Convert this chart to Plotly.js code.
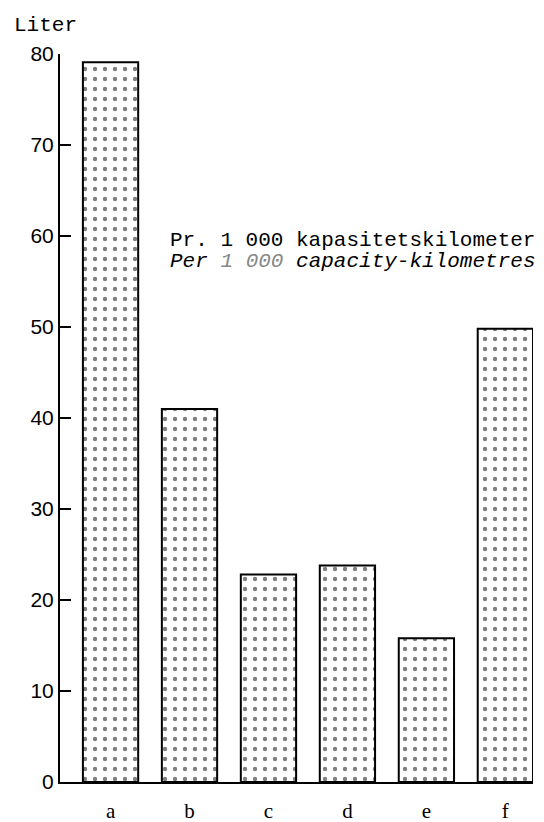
<!DOCTYPE html>
<html>
<head>
<meta charset="utf-8">
<script src="https://cdn.plot.ly/plotly-3.0.1.min.js"></script>
<style>
html, body { margin: 0; padding: 0; background: #fff; }
#chart { width: 544px; height: 822px; }
</style>
</head>
<body>
<div id="chart"></div>
<script>
// Data
const categories = ['a', 'b', 'c', 'd', 'e', 'f'];
const litres = [79.1, 41, 22.8, 23.8, 15.8, 49.8];
const yTicks = [0, 10, 20, 30, 40, 50, 60, 70, 80];
const yUnit = 'Liter';
const noteLine1 = 'Pr. 1 000 kapasitetskilometer';
const noteLine2 = 'Per <span style="color:#888">1 000</span> capacity-kilometres';

const trace = {
  type: 'bar',
  x: categories,
  y: litres,
  width: 0.7,
  marker: {
    color: '#ffffff',
    line: { color: '#000000', width: 2 },
    pattern: { shape: '.', fgcolor: '#000000', bgcolor: '#ffffff', size: 10, solidity: 0.15, fillmode: 'overlay' }
  }
};

const monoFont = { family: 'Liberation Mono, DejaVu Sans Mono, monospace', size: 21, color: '#000' };

const layout = {
  width: 544,
  height: 822,
  margin: { l: 60, r: 11, t: 54, b: 40, pad: 0 },
  showlegend: false,
  xaxis: {
    type: 'category',
    range: [-0.64, 5.35],
    showgrid: false,
    zeroline: false,
    showline: true,
    linecolor: '#000',
    linewidth: 2,
    ticks: '',
    ticklabelstandoff: 9,
    tickfont: { family: 'Liberation Serif, DejaVu Serif, serif', size: 21, color: '#000' }
  },
  yaxis: {
    range: [0, 80],
    tickvals: yTicks,
    ticksuffix: '\u2009\u2009',
    showgrid: false,
    zeroline: false,
    showline: true,
    linecolor: '#000',
    linewidth: 2,
    ticks: 'inside',
    ticklen: 11,
    tickwidth: 2,
    tickcolor: '#000',
    tickfont: { family: 'Liberation Sans, Arial, sans-serif', size: 21, color: '#000' }
  },
  annotations: [
    {
      text: yUnit, xref: 'paper', yref: 'paper',
      x: -0.102, y: 1.039, xanchor: 'left', yanchor: 'middle',
      showarrow: false, font: monoFont
    },
    {
      text: noteLine1, xref: 'paper', yref: 'y',
      x: 0.229, y: 59.5, xanchor: 'left', yanchor: 'middle',
      showarrow: false, font: monoFont
    },
    {
      text: '<i>' + noteLine2 + '</i>', xref: 'paper', yref: 'y',
      x: 0.229, y: 57.2, xanchor: 'left', yanchor: 'middle',
      showarrow: false, font: monoFont
    }
  ]
};

Plotly.newPlot('chart', [trace], layout, { staticPlot: true, displayModeBar: false });
</script>
</body>
</html>
